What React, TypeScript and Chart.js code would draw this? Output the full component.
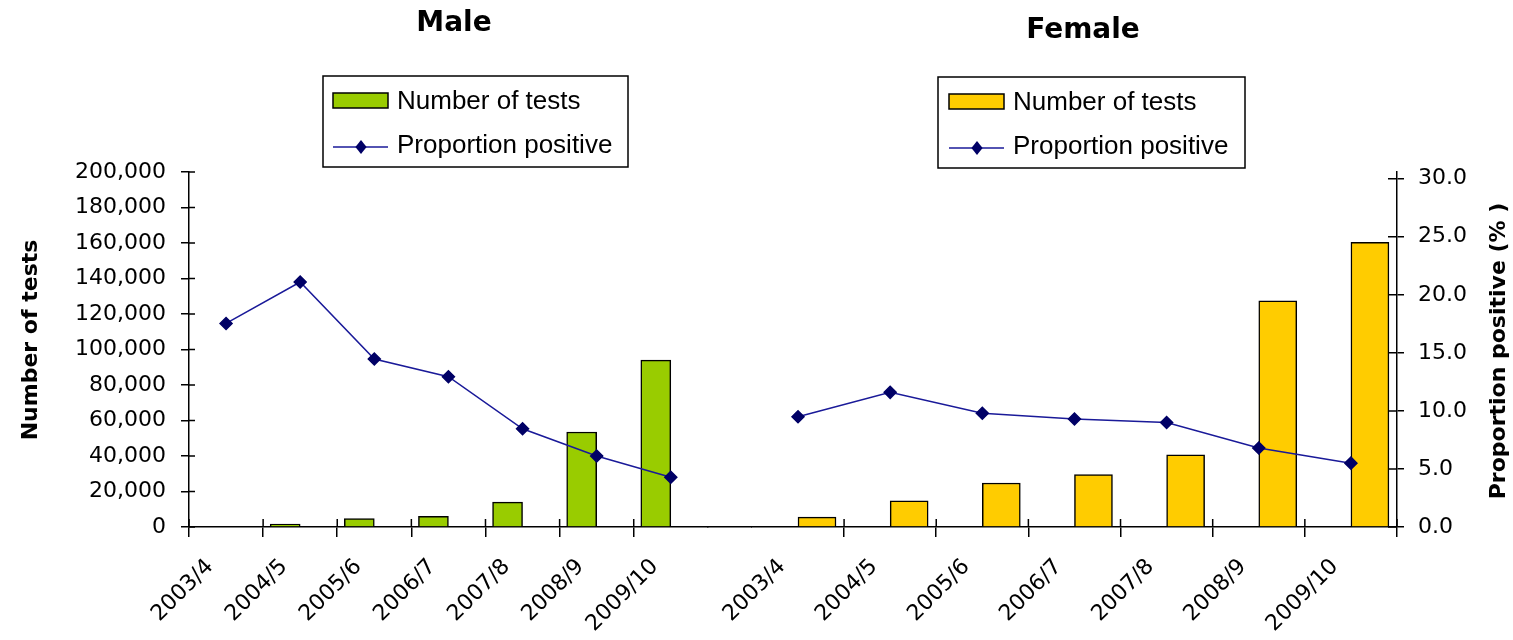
import React, { useEffect, useRef } from 'react';
import { Chart, registerables } from 'chart.js';

Chart.register(...registerables);

// ---- data ----
const maleYears = ['2003/4', '2004/5', '2005/6', '2006/7', '2007/8', '2008/9', '2009/10'];
const femaleYears = ['2003/4', '2004/5', '2005/6', '2006/7', '2007/8', '2008/9', '2009/10'];
const maleTests = [0, 1600, 4800, 6000, 14000, 53500, 94000];
const maleProportion = [17.2, 20.7, 14.2, 12.7, 8.3, 6.0, 4.2];
const femaleTests = [5600, 14700, 24800, 29500, 40600, 127400, 160400];
const femaleProportion = [9.5, 11.6, 9.8, 9.3, 9.0, 6.8, 5.5];
const panelTitles = ['Male', 'Female'];
const seriesNames = ['Number of tests', 'Proportion positive'];
const leftAxisTitle = 'Number of tests';
const rightAxisTitle = 'Proportion positive (% )';

const MALE_COLOR = '#99CC00';
const FEMALE_COLOR = '#FFCC00';
const LINE_COLOR = '#1a1a99';
const MARKER_COLOR = '#000066';

const tickFont = { family: '"DejaVu Sans", Verdana, sans-serif', size: 22 };
const titleFont = '"DejaVu Sans", Verdana, sans-serif';
const legendFont = '26px "Liberation Sans", Arial, sans-serif';

function drawDiamond(ctx: CanvasRenderingContext2D, x: number, y: number, r: number) {
  ctx.beginPath();
  ctx.moveTo(x, y - r);
  ctx.lineTo(x + r * 0.8, y);
  ctx.lineTo(x, y + r);
  ctx.lineTo(x - r * 0.8, y);
  ctx.closePath();
  ctx.fill();
}

const decorPlugin = {
  id: 'decor',
  afterDraw(chart: any) {
    const ctx: CanvasRenderingContext2D = chart.ctx;
    ctx.save();
    // panel titles
    ctx.fillStyle = '#000';
    ctx.font = `bold 28px ${titleFont}`;
    ctx.textAlign = 'center';
    ctx.textBaseline = 'middle';
    ctx.fillText(panelTitles[0], 454, 24);
    ctx.fillText(panelTitles[1], 1083, 31);

    // legends
    const legends = [
      { x: 323, y: 76, w: 305, h: 91, sx: 333, tx: 397, b1: 109, b2: 153, color: MALE_COLOR },
      { x: 938, y: 77, w: 307, h: 91, sx: 949, tx: 1013, b1: 110, b2: 154, color: FEMALE_COLOR },
    ];
    for (const L of legends) {
      ctx.lineWidth = 1.5;
      ctx.strokeStyle = '#000';
      ctx.strokeRect(L.x, L.y, L.w, L.h);
      // bar swatch
      ctx.fillStyle = L.color;
      ctx.fillRect(L.sx, L.b1 - 16, 55, 15);
      ctx.strokeRect(L.sx, L.b1 - 16, 55, 15);
      // line swatch
      ctx.strokeStyle = LINE_COLOR;
      ctx.beginPath();
      ctx.moveTo(L.sx, L.b2 - 6);
      ctx.lineTo(L.sx + 55, L.b2 - 6);
      ctx.stroke();
      ctx.fillStyle = MARKER_COLOR;
      drawDiamond(ctx, L.sx + 28, L.b2 - 6, 7);
      // texts
      ctx.fillStyle = '#000';
      ctx.font = legendFont;
      ctx.textAlign = 'left';
      ctx.textBaseline = 'alphabetic';
      ctx.fillText(seriesNames[0], L.tx, L.b1);
      ctx.fillText(seriesNames[1], L.tx, L.b2);
    }

    // axis titles, both reading bottom to top
    ctx.font = `bold 22px ${titleFont}`;
    ctx.textAlign = 'center';
    ctx.textBaseline = 'middle';
    ctx.fillStyle = '#000';
    ctx.save();
    ctx.translate(31, 340);
    ctx.rotate(-Math.PI / 2);
    ctx.fillText(leftAxisTitle, 0, 0);
    ctx.restore();
    ctx.save();
    ctx.translate(1499, 351);
    ctx.rotate(-Math.PI / 2);
    ctx.fillText(rightAxisTitle, 0, 0);
    ctx.restore();

    // inner halves of tick marks (ticks cross the axes)
    ctx.strokeStyle = '#000';
    ctx.lineWidth = 1.5;
    const yl = chart.scales.yl;
    const yr = chart.scales.yr;
    ctx.beginPath();
    yl.ticks.forEach((_t: any, i: number) => {
      const p = yl.getPixelForTick(i);
      ctx.moveTo(yl.right, p);
      ctx.lineTo(yl.right + 6, p);
    });
    yr.ticks.forEach((_t: any, i: number) => {
      const p = yr.getPixelForTick(i);
      ctx.moveTo(yr.left, p);
      ctx.lineTo(yr.left - 9, p);
    });
    const xm = chart.scales.xm;
    const xf = chart.scales.xf;
    const mw = xm.width / maleYears.length;
    for (let i = 0; i < maleYears.length; i++) {
      const p = xm.left + i * mw;
      ctx.moveTo(p, xm.top);
      ctx.lineTo(p, xm.top - 8);
    }
    const fw = xf.width / femaleYears.length;
    for (let i = 1; i <= femaleYears.length; i++) {
      const p = xf.left + i * fw;
      ctx.moveTo(p, xf.top);
      ctx.lineTo(p, xf.top - 8);
    }
    ctx.stroke();
    ctx.restore();
  },
};

export default function App() {
  const ref = useRef<HTMLCanvasElement>(null);

  useEffect(() => {
    const canvas = ref.current;
    if (!canvas) return;

    const xTicks = {
      font: tickFont,
      color: '#000',
      minRotation: 45,
      maxRotation: 45,
      autoSkip: false,
      padding: 17,
      labelOffset: -16,
    };
    const border = { display: true, color: '#000', width: 1.5 };

    const chart = new Chart(canvas, {
      type: 'bar',
      data: {
        datasets: [
          {
            type: 'line',
            label: seriesNames[1],
            data: maleProportion,
            xAxisID: 'xm',
            yAxisID: 'ym',
            borderColor: LINE_COLOR,
            borderWidth: 1.5,
            pointStyle: 'rectRot',
            pointRadius: 6,
            pointBackgroundColor: MARKER_COLOR,
            pointBorderColor: MARKER_COLOR,
            order: 1,
          },
          {
            type: 'bar',
            label: seriesNames[0],
            data: maleTests,
            xAxisID: 'xm',
            yAxisID: 'yl',
            backgroundColor: MALE_COLOR,
            borderColor: '#000',
            borderWidth: 1.5,
            barThickness: 30,
            order: 2,
          },
          {
            type: 'line',
            label: seriesNames[1],
            data: femaleProportion,
            xAxisID: 'xf',
            yAxisID: 'yr',
            borderColor: LINE_COLOR,
            borderWidth: 1.5,
            pointStyle: 'rectRot',
            pointRadius: 6,
            pointBackgroundColor: MARKER_COLOR,
            pointBorderColor: MARKER_COLOR,
            order: 1,
          },
          {
            type: 'bar',
            label: seriesNames[0],
            data: femaleTests,
            xAxisID: 'xf',
            yAxisID: 'yl',
            backgroundColor: FEMALE_COLOR,
            borderColor: '#000',
            borderWidth: 1.5,
            barThickness: 38,
            order: 2,
          },
        ] as any,
      },
      options: {
        responsive: false,
        animation: false,
        layout: { padding: { top: 172, left: 0, right: 0, bottom: 0 } },
        plugins: {
          legend: { display: false },
          title: { display: false },
          tooltip: { enabled: false },
        },
        scales: {
          xm: {
            type: 'category',
            position: 'bottom',
            stack: 'xs',
            stackWeight: 518,
            labels: maleYears,
            offset: true,
            grid: {
              display: true,
              drawOnChartArea: false,
              offset: true,
              tickLength: 10,
              lineWidth: 1.5,
              color: (c: any) => (typeof c.index === 'number' ? '#000' : 'rgba(0,0,0,0)'),
            },
            border,
            ticks: xTicks,
            afterFit: (s: any) => { s.height = 113; },
          },
          xg: {
            type: 'category',
            position: 'bottom',
            stack: 'xs',
            stackWeight: 44,
            labels: [''],
            grid: { display: false },
            border,
            ticks: { display: false },
            afterFit: (s: any) => { s.height = 113; },
          },
          xf: {
            type: 'category',
            position: 'bottom',
            stack: 'xs',
            stackWeight: 644,
            labels: femaleYears,
            offset: true,
            grid: {
              display: true,
              drawOnChartArea: false,
              offset: true,
              tickLength: 10,
              lineWidth: 1.5,
              color: (c: any) => (c.index === 0 ? 'rgba(0,0,0,0)' : '#000'),
            },
            border,
            ticks: xTicks,
            afterFit: (s: any) => { s.height = 113; },
          },
          yl: {
            type: 'linear',
            position: 'left',
            min: 0,
            max: 200000,
            grid: { drawOnChartArea: false, tickLength: 8, lineWidth: 1.5, color: '#000' },
            border,
            ticks: {
              stepSize: 20000,
              font: tickFont,
              color: '#000',
              padding: 15,
              callback: (v: any) => Number(v).toLocaleString('en-US'),
            },
            afterFit: (s: any) => { s.width = 189; },
          },
          yr: {
            type: 'linear',
            position: 'right',
            min: 0,
            max: 30.58,
            grid: { drawOnChartArea: false, tickLength: 7, lineWidth: 1.5, color: '#000' },
            border,
            ticks: {
              stepSize: 5,
              includeBounds: false,
              font: tickFont,
              color: '#000',
              padding: 14,
              callback: (v: any) => Number(v).toFixed(1),
            },
            afterFit: (s: any) => { s.width = 116; },
          },
          ym: {
            type: 'linear',
            display: false,
            min: 0,
            max: 30,
          },
        },
      } as any,
      plugins: [decorPlugin],
    });

    return () => chart.destroy();
  }, []);

  return (
    <div style={{ position: 'fixed', left: 0, top: 0, width: 1513, height: 640, background: '#fff' }}>
      <canvas ref={ref} width={1513} height={640} style={{ display: 'block', width: 1513, height: 640 }} />
    </div>
  );
}
